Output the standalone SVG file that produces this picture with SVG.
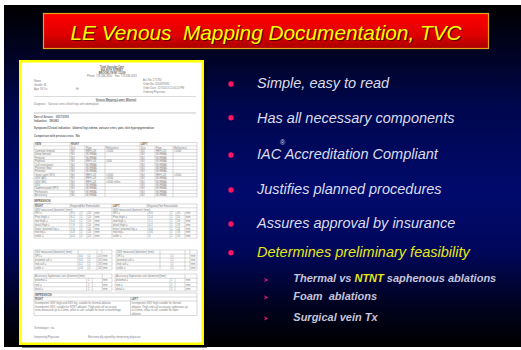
<svg xmlns="http://www.w3.org/2000/svg" width="521" height="350" viewBox="0 0 521 350">
<defs>
<linearGradient id="bg" x1="0" y1="0" x2="0" y2="1">
<stop offset="0" stop-color="#000000"/>
<stop offset="0.1" stop-color="#000218"/>
<stop offset="0.3" stop-color="#00074e"/>
<stop offset="0.55" stop-color="#000a6c"/>
<stop offset="0.72" stop-color="#00075a"/>
<stop offset="0.88" stop-color="#00021e"/>
<stop offset="1" stop-color="#000000"/>
</linearGradient>
<linearGradient id="tb" x1="0" y1="0" x2="0" y2="1">
<stop offset="0" stop-color="#ff0000"/>
<stop offset="0.6" stop-color="#e00000"/>
<stop offset="1" stop-color="#a80000"/>
</linearGradient>
<style>
.d{font-family:"Liberation Sans",Arial,sans-serif;font-size:2.6px;fill:#7c7c7c}
.b{font-weight:bold;fill:#626262}
.g{stroke:#949494;stroke-width:0.35;fill:none}
.m{font-family:"Liberation Sans",Arial,sans-serif;font-style:italic;font-size:14.5px;fill:#dcdcee}
.s{font-family:"Liberation Sans",Arial,sans-serif;font-style:italic;font-weight:bold;font-size:11px;fill:#c4c4dc}
.dot{fill:#ff1464}
.arr{fill:#d0106a}
</style>
</defs>
<rect x="0" y="0" width="521" height="350" fill="#ffffff"/>
<rect x="4" y="5" width="517" height="342" fill="url(#bg)"/>

<g id="title">
<rect x="43.5" y="13.5" width="445" height="35" fill="url(#tb)" stroke="#e8a317" stroke-width="1.2"/>
<text x="267" y="40.5" text-anchor="middle" font-family="Liberation Sans, Arial, sans-serif" font-style="italic" font-size="20.8" fill="#5a0000" xml:space="preserve">LE Venous  Mapping Documentation, TVC</text>
<text x="266" y="39.5" text-anchor="middle" font-family="Liberation Sans, Arial, sans-serif" font-style="italic" font-size="20.8" fill="#ffff00" xml:space="preserve">LE Venous  Mapping Documentation, TVC</text>
</g>

<g id="document">
<rect x="22" y="63" width="185" height="285" fill="#000000" opacity="0.5"/>
<rect x="20.25" y="61.25" width="182.5" height="282.5" fill="#ffffff" stroke="#ffff00" stroke-width="2.5"/>
<g text-anchor="middle">
<text class="d b" x="112" y="67.5">Total Vascular Care</text>
<text class="d b" x="112" y="70.8">866 80TH STREET</text>
<text class="d b" x="112" y="74.1">BROOKLYN NY 11209</text>
<text class="d" x="112" y="77.4" xml:space="preserve">Phone: 718-836-3800    Fax: 718-836-8181</text>
</g>
<text class="d" x="34" y="81.5">Name:</text>
<text class="d" x="34" y="85.5">Gender: M</text>
<text class="d" x="34" y="89.5">Age: 58 Yrs</text>
<text class="d" x="76" y="89.5">Ht:</text>
<text class="d" x="143" y="80.5">Acc No: 271783</text>
<text class="d" x="143" y="84.5">Order No: 3204976991</text>
<text class="d" x="143" y="88.5">Order Date: 11/7/2013 12:00:24 PM</text>
<text class="d" x="143" y="92.5">Ordering Physician:</text>
<path class="g" d="M34 96.5H196"/>
<text class="d b" x="116" y="100.5" text-anchor="middle" text-decoration="underline">Venous Mapping Lower, Bilateral</text>
<text class="d" x="34" y="104.8" xml:space="preserve">Diagnosis:   Varicose veins of both legs with edema/pain</text>
<rect x="34" y="112.3" width="162" height="1.3" fill="#d4d4d4"/>
<text class="d b" x="34" y="117.8" font-size="2.9" xml:space="preserve">Date of Service:   05/17/2019</text>
<text class="d b" x="34" y="121.8" font-size="2.9" xml:space="preserve">Indication:   380.893</text>
<text class="d b" x="34" y="129.2" font-size="2.9" xml:space="preserve">Symptoms/Clinical indication:  bilateral legs edema, varicose veins, pain, skin hyperpigmentation</text>
<text class="d b" x="34" y="136.8" font-size="2.9" xml:space="preserve">Comparison with previous tests:  N/a</text>

<path class="g" d="M34 142.5H197M34 145.9H197M34 149.3H197M34 152.7H197M34 156.1H197M34 159.5H197M34 162.9H197M34 166.3H197M34 169.7H197M34 173.1H197M34 176.5H197M34 179.9H197M34 183.3H197M34 186.7H197M34 190.1H197M34 193.5H197M34 196.9H197M34 142.5V196.9M70 142.5V196.9M140 142.5V196.9M197 142.5V196.9M85 145.9V196.9M105 145.9V196.9M155 145.9V196.9M173 145.9V196.9"/>
<text class="d b" x="35" y="145.2">VEIN</text><text class="d b" x="71" y="145.2">RIGHT</text><text class="d b" x="141" y="145.2">LEFT</text>
<text class="d" x="71" y="148.6">Dist</text><text class="d" x="86" y="148.6">Flow</text><text class="d" x="106" y="148.6">Reflux(ms)</text><text class="d" x="141" y="148.6">Dist</text><text class="d" x="156" y="148.6">Flow</text><text class="d" x="174" y="148.6">Reflux(ms)</text>
<text class="d" x="35" y="152.0">Common femoral</text><text class="d" x="71" y="152.0">NO</text><text class="d" x="86" y="152.0">REFLUX</text><text class="d" x="106" y="152.0">&gt;1000</text><text class="d" x="141" y="152.0">NO</text><text class="d" x="156" y="152.0">REFLUX</text><text class="d" x="174" y="152.0">&gt;1000</text>
<text class="d" x="35" y="155.4">Deep femoral</text><text class="d" x="71" y="155.4">NO</text><text class="d" x="86" y="155.4">NORMAL</text><text class="d" x="141" y="155.4">NO</text><text class="d" x="156" y="155.4">NORMAL</text>
<text class="d" x="35" y="158.8">Femoral</text><text class="d" x="71" y="158.8">NO</text><text class="d" x="86" y="158.8">NORMAL</text><text class="d" x="141" y="158.8">NO</text><text class="d" x="156" y="158.8">NORMAL</text>
<text class="d" x="35" y="162.2">Popliteal</text><text class="d" x="71" y="162.2">NO</text><text class="d" x="86" y="162.2">REFLUX</text><text class="d" x="106" y="162.2">1000</text><text class="d" x="141" y="162.2">NO</text><text class="d" x="156" y="162.2">NORMAL</text>
<text class="d" x="35" y="165.6">Calf veins(post)</text><text class="d" x="71" y="165.6">NO</text><text class="d" x="86" y="165.6">NORMAL</text><text class="d" x="141" y="165.6">NO</text><text class="d" x="156" y="165.6">NORMAL</text>
<text class="d" x="35" y="169.0">Posterior tibial</text><text class="d" x="71" y="169.0">NO</text><text class="d" x="86" y="169.0">NORMAL</text><text class="d" x="141" y="169.0">NO</text><text class="d" x="156" y="169.0">NORMAL</text>
<text class="d" x="35" y="172.4">Peroneal</text><text class="d" x="71" y="172.4">NO</text><text class="d" x="86" y="172.4">NORMAL</text><text class="d" x="141" y="172.4">NO</text><text class="d" x="156" y="172.4">NORMAL</text>
<text class="d" x="35" y="175.8">Great saph (SFJ)</text><text class="d" x="71" y="175.8">NO</text><text class="d" x="86" y="175.8">REFLUX</text><text class="d" x="106" y="175.8">&gt;2000</text><text class="d" x="141" y="175.8">NO</text><text class="d" x="156" y="175.8">REFLUX</text><text class="d" x="174" y="175.8">&gt;2000</text>
<text class="d" x="35" y="179.2">GSV (AK)</text><text class="d" x="71" y="179.2">NO</text><text class="d" x="86" y="179.2">REFLUX</text><text class="d" x="106" y="179.2">&gt;2000</text><text class="d" x="141" y="179.2">NO</text><text class="d" x="156" y="179.2">NORMAL</text>
<text class="d" x="35" y="182.6">GSV (BK)</text><text class="d" x="71" y="182.6">NO</text><text class="d" x="86" y="182.6">REFLUX</text><text class="d" x="106" y="182.6">&gt;2000 reflux</text><text class="d" x="141" y="182.6">NO</text><text class="d" x="156" y="182.6">NORMAL</text>
<text class="d" x="35" y="186.0">SSV</text><text class="d" x="71" y="186.0">NO</text><text class="d" x="86" y="186.0">NORMAL</text><text class="d" x="141" y="186.0">NO</text><text class="d" x="156" y="186.0">NORMAL</text>
<text class="d" x="35" y="189.4">Sapheno-popl (SPJ)</text><text class="d" x="71" y="189.4">NO</text><text class="d" x="86" y="189.4">NORMAL</text><text class="d" x="141" y="189.4">NO</text><text class="d" x="156" y="189.4">NORMAL</text>
<text class="d" x="35" y="192.8">Perforators</text><text class="d" x="71" y="192.8">NO</text><text class="d" x="86" y="192.8">NORMAL</text><text class="d" x="141" y="192.8">NO</text><text class="d" x="156" y="192.8">NORMAL</text>
<text class="d" x="35" y="196.2">Accessory</text><text class="d" x="71" y="196.2">NO</text><text class="d" x="86" y="196.2">NORMAL</text><text class="d" x="141" y="196.2">NO</text><text class="d" x="156" y="196.2">NORMAL</text>

<text class="d b" x="34" y="202" text-decoration="underline">IMPRESSION:</text>
<path class="g" d="M34 204H197M34 207.8H197M34 211.6H197M34 215.4H197M34 219.2H197M34 223H197M34 226.8H197M34 230.6H197M34 234.4H197M34 238.2H197M34 204V238.2M112 204V238.2M197 204V238.2M70 204V207.8M80 204V207.8M147 204V207.8M158 204V207.8M70 211.6V238.2M80 211.6V238.2M87 211.6V238.2M94 211.6V238.2M148 211.6V238.2M170 211.6V238.2M176 211.6V238.2M185 211.6V238.2"/>
<text class="d b" x="35" y="206.8">RIGHT</text><text class="d" x="70.6" y="206.8">Negative</text><text class="d" x="81" y="206.8">Not Remarkable</text>
<text class="d b" x="113" y="206.8">LEFT</text><text class="d" x="147.5" y="206.8">Negative</text><text class="d" x="159" y="206.8">Not Remarkable</text>
<text class="d" x="35" y="210.6">GSV measured (diameter) (mm):</text><text class="d" x="113" y="210.6">GSV measured (diameter) (mm):</text>
<text class="d" x="35" y="214.4">SFJ =</text><text class="d" x="71" y="214.4">8.5</text><text class="d" x="81" y="214.4">2</text><text class="d" x="88" y="214.4">20</text><text class="d" x="95" y="214.4">mm</text><text class="d" x="113" y="214.4">SFJ =</text><text class="d" x="149" y="214.4">8.0</text><text class="d" x="171" y="214.4">2</text><text class="d" x="177" y="214.4">20</text><text class="d" x="186" y="214.4">mm</text>
<text class="d" x="35" y="218.2">Prox thigh =</text><text class="d" x="71" y="218.2">6.2</text><text class="d" x="81" y="218.2">2</text><text class="d" x="88" y="218.2">20</text><text class="d" x="95" y="218.2">mm</text><text class="d" x="113" y="218.2">Prox thigh =</text><text class="d" x="149" y="218.2">5.4</text><text class="d" x="171" y="218.2">2</text><text class="d" x="177" y="218.2">20</text><text class="d" x="186" y="218.2">mm</text>
<text class="d" x="35" y="222">mid thigh =</text><text class="d" x="71" y="222">5.4</text><text class="d" x="81" y="222">2</text><text class="d" x="88" y="222">20</text><text class="d" x="95" y="222">mm</text><text class="d" x="113" y="222">mid thigh =</text><text class="d" x="149" y="222">5.1</text><text class="d" x="171" y="222">2</text><text class="d" x="177" y="222">18</text><text class="d" x="186" y="222">mm</text>
<text class="d" x="35" y="225.8">distal thigh =</text><text class="d" x="71" y="225.8">7.6</text><text class="d" x="81" y="225.8">2</text><text class="d" x="88" y="225.8">20</text><text class="d" x="95" y="225.8">mm</text><text class="d" x="113" y="225.8">distal thigh =</text><text class="d" x="149" y="225.8">4.2</text><text class="d" x="171" y="225.8">2</text><text class="d" x="177" y="225.8">18</text><text class="d" x="186" y="225.8">mm</text>
<text class="d" x="35" y="229.6">knee / proximal leg =</text><text class="d" x="71" y="229.6">7.0</text><text class="d" x="81" y="229.6">2</text><text class="d" x="88" y="229.6">20</text><text class="d" x="95" y="229.6">mm</text><text class="d" x="113" y="229.6">knee / proximal leg =</text><text class="d" x="149" y="229.6">4.0</text><text class="d" x="171" y="229.6">2</text><text class="d" x="177" y="229.6">18</text><text class="d" x="186" y="229.6">mm</text>
<text class="d" x="35" y="233.4">mid leg =</text><text class="d" x="71" y="233.4">5.8</text><text class="d" x="81" y="233.4">2</text><text class="d" x="88" y="233.4">20</text><text class="d" x="95" y="233.4">mm</text><text class="d" x="113" y="233.4">mid leg =</text><text class="d" x="149" y="233.4">3.6</text><text class="d" x="171" y="233.4">2</text><text class="d" x="177" y="233.4">18</text><text class="d" x="186" y="233.4">mm</text>
<text class="d" x="35" y="237.2">ankle =</text><text class="d" x="71" y="237.2">4.0</text><text class="d" x="81" y="237.2">2</text><text class="d" x="88" y="237.2">20</text><text class="d" x="95" y="237.2">mm</text><text class="d" x="113" y="237.2">ankle =</text><text class="d" x="149" y="237.2">3</text><text class="d" x="171" y="237.2">2</text><text class="d" x="177" y="237.2">18</text><text class="d" x="186" y="237.2">mm</text>

<path class="g" d="M34 250H112M34 254H112M34 258H112M34 262H112M34 266H112M34 270H112M34 250V270M112 250V270M78 250V270M88 254V270M97 250V270M102 250V270M116 250H197M116 254H197M116 258H197M116 262H197M116 266H197M116 270H197M116 250V270M197 250V270M160 250V270M171 254V270M185 250V270M190 250V270"/>
<text class="d" x="35" y="253">SSV measured (diameter) (mm):</text><text class="d" x="117" y="253">SSV measured (diameter) (mm):</text>
<text class="d" x="35" y="257">SPJ =</text><text class="d" x="79" y="257">3.4</text><text class="d" x="89" y="257">2</text><text class="d" x="98" y="257">20</text><text class="d" x="103" y="257">mm</text><text class="d" x="117" y="257">SPJ =</text><text class="d" x="172" y="257">2</text><text class="d" x="191" y="257">mm</text>
<text class="d" x="35" y="261">proximal calf =</text><text class="d" x="79" y="261">3.6</text><text class="d" x="89" y="261">2</text><text class="d" x="98" y="261">20</text><text class="d" x="103" y="261">mm</text><text class="d" x="117" y="261">proximal calf =</text><text class="d" x="172" y="261">2</text><text class="d" x="191" y="261">mm</text>
<text class="d" x="35" y="265">mid calf =</text><text class="d" x="79" y="265">3.2</text><text class="d" x="89" y="265">2</text><text class="d" x="98" y="265">18</text><text class="d" x="103" y="265">mm</text><text class="d" x="117" y="265">mid calf =</text><text class="d" x="172" y="265">2</text><text class="d" x="191" y="265">mm</text>
<text class="d" x="35" y="269">ankle =</text><text class="d" x="79" y="269">2.8</text><text class="d" x="89" y="269">2</text><text class="d" x="98" y="269">18</text><text class="d" x="103" y="269">mm</text><text class="d" x="117" y="269">ankle =</text><text class="d" x="172" y="269">2</text><text class="d" x="191" y="269">mm</text>

<path class="g" d="M34 274H112M34 278.25H112M34 282.5H112M34 286.75H112M34 291H112M34 274V291M112 274V291M86.7 278.25V291M92.3 278.25V291M102.3 274V291M115 274H197M115 278.25H197M115 282.5H197M115 286.75H197M115 291H197M115 274V291M197 274V291M170 278.25V291M175 278.25V291M185 274V291"/>
<text class="d" x="35" y="277">Accessory Saphenous vein (diameter)(mm):</text><text class="d" x="116" y="277">Accessory Saphenous vein (diameter)(mm):</text>
<text class="d" x="35" y="281.25">proximal =</text><text class="d" x="88" y="281.25">2</text><text class="d" x="103" y="281.25">mm</text><text class="d" x="116" y="281.25">proximal =</text><text class="d" x="171" y="281.25">2</text><text class="d" x="186" y="281.25">mm</text>
<text class="d" x="35" y="285.5">mid =</text><text class="d" x="88" y="285.5">2</text><text class="d" x="103" y="285.5">mm</text><text class="d" x="116" y="285.5">mid =</text><text class="d" x="171" y="285.5">2</text><text class="d" x="186" y="285.5">mm</text>
<text class="d" x="35" y="289.75">distal =</text><text class="d" x="88" y="289.75">2</text><text class="d" x="103" y="289.75">mm</text><text class="d" x="116" y="289.75">distal =</text><text class="d" x="171" y="289.75">2</text><text class="d" x="186" y="289.75">mm</text>

<path class="g" d="M34 293H197M34 297H197M34 301H197M34 315.5H197M34 293V315.5M197 293V315.5M130.5 297V315.5"/>
<text class="d b" x="35" y="296">IMPRESSION:</text>
<text class="d b" x="35" y="300">RIGHT</text><text class="d b" x="131.5" y="300">LEFT</text>
<text class="d" x="35" y="304">Incompetent GSV thigh and GSV leg, suitable for thermal ablation.</text>
<text class="d" x="35" y="307.5">Incompetent SSV, suitable for NTNT ablation. Thigh and calf accessory</text>
<text class="d" x="35" y="311">veins measured up to 4.0mm, reflux in calf, suitable for foam sclerotherapy.</text>
<text class="d" x="131.5" y="304">Incompetent GSV thigh suitable for thermal</text>
<text class="d" x="131.5" y="307.5">ablation. Thigh and calf accessory saphenous up</text>
<text class="d" x="131.5" y="311">to 5.0mm, reflux in calf, suitable for foam</text>
<text class="d" x="131.5" y="314.5">ablation.</text>
<text class="d" x="34" y="321.5">.</text>
<text class="d" x="34" y="328.5" xml:space="preserve">Technologist:  n/a</text>
<text class="d" x="34" y="337.5">Interpreting Physician:</text>
<text class="d" x="88" y="337.5">Electronically signed by interpreting physician</text>
</g>

<g id="bullets">
<circle class="dot" cx="231" cy="84" r="2.7"/>
<text class="m" x="257" y="88">Simple, easy to read</text>
<circle class="dot" cx="231" cy="117.7" r="2.7"/>
<text class="m" x="257" y="122.5">Has all necessary components</text>
<circle class="dot" cx="231" cy="155" r="2.7"/>
<text class="m" x="257" y="159.3">IAC Accreditation Compliant</text>
<text x="282.5" y="145" font-family="Liberation Sans, Arial, sans-serif" font-size="7" fill="#dcdcee" text-anchor="middle">®</text>
<circle class="dot" cx="231" cy="190" r="2.7"/>
<text class="m" x="257" y="194">Justifies planned procedures</text>
<circle class="dot" cx="231" cy="224" r="2.7"/>
<text class="m" x="257" y="228">Assures approval by insurance</text>
<circle class="dot" cx="231" cy="252.7" r="2.7"/>
<text class="m" x="257" y="256.8" style="fill:#e6e619">Determines preliminary feasibility</text>
<polygon class="arr" points="264,277.8 268.5,280 264,282.2 265,280"/>
<text class="s" x="293.3" y="281.8">Thermal vs <tspan fill="#e6e619">NTNT</tspan> saphenous ablations</text>
<polygon class="arr" points="264,295.2 268.5,297.4 264,299.6 265,297.4"/>
<text class="s" x="293.3" y="299.5" xml:space="preserve">Foam  ablations</text>
<polygon class="arr" points="264,316.2 268.5,318.4 264,320.6 265,318.4"/>
<text class="s" x="293.3" y="320.8">Surgical vein Tx</text>
</g>
</svg>
